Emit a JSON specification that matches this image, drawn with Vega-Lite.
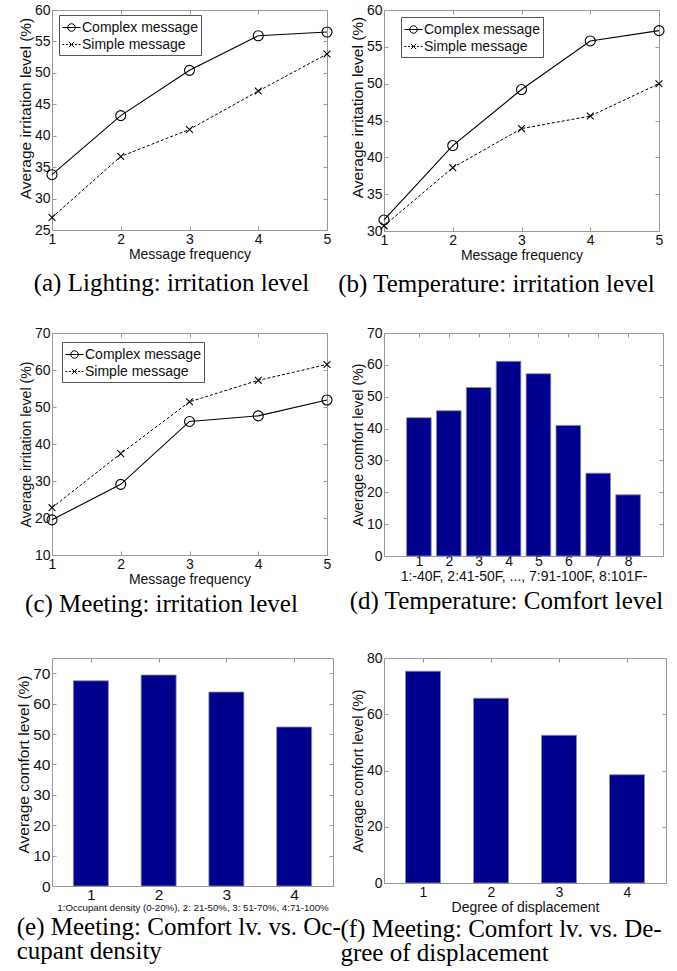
{
  "$schema": "https://vega.github.io/schema/vega-lite/v6.json",
  "padding": {"left": 16, "top": 2, "right": 4, "bottom": 4},
  "background": "white",
  "config": {
    "view": {"stroke": "#999999", "strokeWidth": 1},
    "axis": {"domain": false, "grid": false, "tickColor": "#999999", "tickSize": -4, "tickWidth": 1,
      "labelFont": "Liberation Sans", "labelFontSize": 14, "labelColor": "#111111",
      "titleFont": "Liberation Sans", "titleFontSize": 14, "titleFontWeight": "normal", "titleColor": "#111111",
      "labelFlush": false, "labelOverlap": false},
    "axisX": {"labelPadding": 6, "titlePadding": 1},
    "axisY": {"labelPadding": 6, "titlePadding": 1, "titleFontSize": 15.5},
    "title": {"orient": "bottom", "anchor": "middle", "offset": 10, "font": "Liberation Serif", "fontSize": 25, "fontWeight": "normal", "color": "#000000", "lineHeight": 24}
  },
  "datasets": {
    "a": [
      {"f": 1, "v": 33.8, "s": "Complex message"}, {"f": 2, "v": 43.2, "s": "Complex message"}, {"f": 3, "v": 50.4, "s": "Complex message"}, {"f": 4, "v": 55.9, "s": "Complex message"}, {"f": 5, "v": 56.5, "s": "Complex message"},
      {"f": 1, "v": 27.0, "s": "Simple message"}, {"f": 2, "v": 36.7, "s": "Simple message"}, {"f": 3, "v": 41.0, "s": "Simple message"}, {"f": 4, "v": 47.1, "s": "Simple message"}, {"f": 5, "v": 53.0, "s": "Simple message"}
    ],
    "b": [
      {"f": 1, "v": 31.5, "s": "Complex message"}, {"f": 2, "v": 41.6, "s": "Complex message"}, {"f": 3, "v": 49.2, "s": "Complex message"}, {"f": 4, "v": 55.8, "s": "Complex message"}, {"f": 5, "v": 57.2, "s": "Complex message"},
      {"f": 1, "v": 30.7, "s": "Simple message"}, {"f": 2, "v": 38.6, "s": "Simple message"}, {"f": 3, "v": 43.9, "s": "Simple message"}, {"f": 4, "v": 45.6, "s": "Simple message"}, {"f": 5, "v": 50.0, "s": "Simple message"}
    ],
    "c": [
      {"f": 1, "v": 19.5, "s": "Complex message"}, {"f": 2, "v": 29.1, "s": "Complex message"}, {"f": 3, "v": 46.1, "s": "Complex message"}, {"f": 4, "v": 47.6, "s": "Complex message"}, {"f": 5, "v": 51.9, "s": "Complex message"},
      {"f": 1, "v": 22.8, "s": "Simple message"}, {"f": 2, "v": 37.4, "s": "Simple message"}, {"f": 3, "v": 51.4, "s": "Simple message"}, {"f": 4, "v": 57.2, "s": "Simple message"}, {"f": 5, "v": 61.5, "s": "Simple message"}
    ],
    "d": [
      {"t": 1, "v": 43.4}, {"t": 2, "v": 45.6}, {"t": 3, "v": 52.9}, {"t": 4, "v": 61.1},
      {"t": 5, "v": 57.2}, {"t": 6, "v": 41.0}, {"t": 7, "v": 26.0}, {"t": 8, "v": 19.2}
    ],
    "e": [
      {"t": 1, "v": 67.5}, {"t": 2, "v": 69.4}, {"t": 3, "v": 63.8}, {"t": 4, "v": 52.3}
    ],
    "f": [
      {"t": 1, "v": 75.3}, {"t": 2, "v": 65.7}, {"t": 3, "v": 52.5}, {"t": 4, "v": 38.5}
    ]
  },
  "columns": 2,
  "bounds": "flush",
  "spacing": {"row": 102, "column": 51},
  "resolve": {"scale": {"shape": "independent"}, "legend": {"shape": "independent"}},
  "concat": [
    {
      "width": 275, "height": 220,
      "title": {"text": "(a) Lighting: irritation level", "dx": -18},
      "data": {"name": "a"},
      "layer": [
        {"transform": [{"filter": "datum.s === 'Complex message'"}],
         "mark": {"type": "line", "color": "black", "strokeWidth": 1.1},
         "encoding": {
           "x": {"field": "f", "type": "quantitative", "scale": {"domain": [1, 5], "nice": false, "zero": false}, "axis": {"values": [1, 2, 3, 4, 5], "title": "Message frequency"}},
           "y": {"field": "v", "type": "quantitative", "scale": {"domain": [25, 60], "nice": false, "zero": false}, "axis": {"values": [25, 30, 35, 40, 45, 50, 55, 60], "title": "Average irritation level (%)", "titleY": 98}}
         }},
        {"transform": [{"filter": "datum.s === 'Simple message'"}],
         "mark": {"type": "line", "color": "black", "strokeWidth": 1, "strokeDash": [3, 2]},
         "encoding": {"x": {"field": "f", "type": "quantitative", "axis": null}, "y": {"field": "v", "type": "quantitative", "axis": null}}},
        {"transform": [{"filter": "datum.s === 'Complex message'"}],
         "mark": {"type": "point", "shape": "circle", "filled": false, "color": "black", "strokeWidth": 1.1, "opacity": 1, "size": 100},
         "encoding": {"x": {"field": "f", "type": "quantitative", "axis": null}, "y": {"field": "v", "type": "quantitative", "axis": null}}},
        {"transform": [{"filter": "datum.s === 'Simple message'"}],
         "mark": {"type": "point", "shape": "M-0.68,-0.68L0.68,0.68M-0.68,0.68L0.68,-0.68", "filled": false, "color": "black", "strokeWidth": 1.1, "opacity": 1, "size": 100},
         "encoding": {"x": {"field": "f", "type": "quantitative", "axis": null}, "y": {"field": "v", "type": "quantitative", "axis": null}}},
        {"mark": {"type": "point", "opacity": 0, "filled": false, "color": "black"},
         "encoding": {
           "x": {"field": "f", "type": "quantitative", "axis": {"orient": "top", "values": [1, 2, 3, 4, 5], "labels": false, "title": null}},
           "y": {"field": "v", "type": "quantitative", "axis": {"orient": "right", "values": [25, 30, 35, 40, 45, 50, 55, 60], "labels": false, "title": null}},
           "shape": {"field": "s", "type": "nominal", "scale": {"domain": ["Complex message", "Simple message"], "range": ["M-1,0L1,0M-0.42,0A0.42,0.42 0 1,1 0.42,0A0.42,0.42 0 1,1 -0.42,0", "M-1,0L-0.8,0M-0.6,0L-0.4,0M-0.2,0L0.2,0M0.4,0L0.6,0M0.8,0L1,0M-0.3,-0.3L0.3,0.3M-0.3,0.3L0.3,-0.3"]},
             "legend": {"title": null, "orient": "none", "legendX": 7, "legendY": 5, "strokeColor": "#555555", "fillColor": "white", "padding": 3,
               "labelFont": "Liberation Sans", "labelFontSize": 14, "labelColor": "#111111", "symbolSize": 324, "labelOffset": 1, "rowPadding": 0,
               "symbolOpacity": 1, "symbolStrokeColor": "black", "symbolStrokeWidth": 1, "symbolFillColor": "transparent"}}
         }}
      ],
      "resolve": {"axis": {"x": "independent", "y": "independent"}}
    },
    {
      "width": 275, "height": 221,
      "title": {"text": "(b) Temperature: irritation level", "dx": -25},
      "data": {"name": "b"},
      "layer": [
        {"transform": [{"filter": "datum.s === 'Complex message'"}],
         "mark": {"type": "line", "color": "black", "strokeWidth": 1.1},
         "encoding": {
           "x": {"field": "f", "type": "quantitative", "scale": {"domain": [1, 5], "nice": false, "zero": false}, "axis": {"values": [1, 2, 3, 4, 5], "title": "Message frequency"}},
           "y": {"field": "v", "type": "quantitative", "scale": {"domain": [30, 60], "nice": false, "zero": false}, "axis": {"values": [30, 35, 40, 45, 50, 55, 60], "title": "Average irritation level (%)", "titleY": 97}}
         }},
        {"transform": [{"filter": "datum.s === 'Simple message'"}],
         "mark": {"type": "line", "color": "black", "strokeWidth": 1, "strokeDash": [3, 2]},
         "encoding": {"x": {"field": "f", "type": "quantitative", "axis": null}, "y": {"field": "v", "type": "quantitative", "axis": null}}},
        {"transform": [{"filter": "datum.s === 'Complex message'"}],
         "mark": {"type": "point", "shape": "circle", "filled": false, "color": "black", "strokeWidth": 1.1, "opacity": 1, "size": 100},
         "encoding": {"x": {"field": "f", "type": "quantitative", "axis": null}, "y": {"field": "v", "type": "quantitative", "axis": null}}},
        {"transform": [{"filter": "datum.s === 'Simple message'"}],
         "mark": {"type": "point", "shape": "M-0.68,-0.68L0.68,0.68M-0.68,0.68L0.68,-0.68", "filled": false, "color": "black", "strokeWidth": 1.1, "opacity": 1, "size": 100},
         "encoding": {"x": {"field": "f", "type": "quantitative", "axis": null}, "y": {"field": "v", "type": "quantitative", "axis": null}}},
        {"mark": {"type": "point", "opacity": 0, "filled": false, "color": "black"},
         "encoding": {
           "x": {"field": "f", "type": "quantitative", "axis": {"orient": "top", "values": [1, 2, 3, 4, 5], "labels": false, "title": null}},
           "y": {"field": "v", "type": "quantitative", "axis": {"orient": "right", "values": [30, 35, 40, 45, 50, 55, 60], "labels": false, "title": null}},
           "shape": {"field": "s", "type": "nominal", "scale": {"domain": ["Complex message", "Simple message"], "range": ["M-1,0L1,0M-0.42,0A0.42,0.42 0 1,1 0.42,0A0.42,0.42 0 1,1 -0.42,0", "M-1,0L-0.8,0M-0.6,0L-0.4,0M-0.2,0L0.2,0M0.4,0L0.6,0M0.8,0L1,0M-0.3,-0.3L0.3,0.3M-0.3,0.3L0.3,-0.3"]},
             "legend": {"title": null, "orient": "none", "legendX": 17, "legendY": 7, "strokeColor": "#555555", "fillColor": "white", "padding": 3,
               "labelFont": "Liberation Sans", "labelFontSize": 14, "labelColor": "#111111", "symbolSize": 324, "labelOffset": 1, "rowPadding": 0,
               "symbolOpacity": 1, "symbolStrokeColor": "black", "symbolStrokeWidth": 1, "symbolFillColor": "transparent"}}
         }}
      ],
      "resolve": {"axis": {"x": "independent", "y": "independent"}}
    },
    {
      "width": 275, "height": 222,
      "title": {"text": "(c) Meeting: irritation level", "dx": -28, "offset": 6},
      "data": {"name": "c"},
      "layer": [
        {"transform": [{"filter": "datum.s === 'Complex message'"}],
         "mark": {"type": "line", "color": "black", "strokeWidth": 1.1},
         "encoding": {
           "x": {"field": "f", "type": "quantitative", "scale": {"domain": [1, 5], "nice": false, "zero": false}, "axis": {"values": [1, 2, 3, 4, 5], "title": "Message frequency"}},
           "y": {"field": "v", "type": "quantitative", "scale": {"domain": [10, 70], "nice": false, "zero": false}, "axis": {"values": [10, 20, 30, 40, 50, 60, 70], "title": "Average irritation level (%)", "titleFontSize": 14.2}}
         }},
        {"transform": [{"filter": "datum.s === 'Simple message'"}],
         "mark": {"type": "line", "color": "black", "strokeWidth": 1, "strokeDash": [3, 2]},
         "encoding": {"x": {"field": "f", "type": "quantitative", "axis": null}, "y": {"field": "v", "type": "quantitative", "axis": null}}},
        {"transform": [{"filter": "datum.s === 'Complex message'"}],
         "mark": {"type": "point", "shape": "circle", "filled": false, "color": "black", "strokeWidth": 1.1, "opacity": 1, "size": 100},
         "encoding": {"x": {"field": "f", "type": "quantitative", "axis": null}, "y": {"field": "v", "type": "quantitative", "axis": null}}},
        {"transform": [{"filter": "datum.s === 'Simple message'"}],
         "mark": {"type": "point", "shape": "M-0.68,-0.68L0.68,0.68M-0.68,0.68L0.68,-0.68", "filled": false, "color": "black", "strokeWidth": 1.1, "opacity": 1, "size": 100},
         "encoding": {"x": {"field": "f", "type": "quantitative", "axis": null}, "y": {"field": "v", "type": "quantitative", "axis": null}}},
        {"mark": {"type": "point", "opacity": 0, "filled": false, "color": "black"},
         "encoding": {
           "x": {"field": "f", "type": "quantitative", "axis": {"orient": "top", "values": [1, 2, 3, 4, 5], "labels": false, "title": null}},
           "y": {"field": "v", "type": "quantitative", "axis": {"orient": "right", "values": [10, 20, 30, 40, 50, 60, 70], "labels": false, "title": null}},
           "shape": {"field": "s", "type": "nominal", "scale": {"domain": ["Complex message", "Simple message"], "range": ["M-1,0L1,0M-0.42,0A0.42,0.42 0 1,1 0.42,0A0.42,0.42 0 1,1 -0.42,0", "M-1,0L-0.8,0M-0.6,0L-0.4,0M-0.2,0L0.2,0M0.4,0L0.6,0M0.8,0L1,0M-0.3,-0.3L0.3,0.3M-0.3,0.3L0.3,-0.3"]},
             "legend": {"title": null, "orient": "none", "legendX": 10, "legendY": 9, "strokeColor": "#555555", "fillColor": "white", "padding": 3,
               "labelFont": "Liberation Sans", "labelFontSize": 14, "labelColor": "#111111", "symbolSize": 324, "labelOffset": 1, "rowPadding": 0,
               "symbolOpacity": 1, "symbolStrokeColor": "black", "symbolStrokeWidth": 1, "symbolFillColor": "transparent"}}
         }}
      ],
      "resolve": {"axis": {"x": "independent", "y": "independent"}}
    },
    {
      "width": 279, "height": 223,
      "title": {"text": "(d) Temperature: Comfort level", "dx": -17, "offset": 6},
      "data": {"name": "d"},
      "layer": [
        {"mark": {"type": "bar", "orient": "vertical", "width": 24.6, "color": "#00008f", "stroke": "#8a8aa0", "strokeWidth": 0.8},
         "encoding": {
           "x": {"field": "t", "type": "quantitative", "scale": {"domain": [0, 9], "nice": false, "zero": false}, "axis": {"values": [1, 2, 3, 4, 5, 6, 7, 8], "title": "1:-40F, 2:41-50F, ..., 7:91-100F, 8:101F-", "labelPadding": 2, "titlePadding": 1}},
           "y": {"field": "v", "type": "quantitative", "scale": {"domain": [0, 70], "nice": false}, "axis": {"values": [0, 10, 20, 30, 40, 50, 60, 70], "title": "Average comfort level (%)", "titleFontSize": 14.2}}
         }},
        {"mark": {"type": "point", "opacity": 0},
         "encoding": {
           "x": {"field": "t", "type": "quantitative", "axis": {"orient": "top", "values": [1, 2, 3, 4, 5, 6, 7, 8], "labels": false, "title": null}},
           "y": {"field": "v", "type": "quantitative", "axis": {"orient": "right", "values": [0, 10, 20, 30, 40, 50, 60, 70], "labels": false, "title": null}}
         }}
      ],
      "resolve": {"axis": {"x": "independent", "y": "independent"}}
    },
    {
      "width": 281, "height": 228,
      "title": {"text": ["(e) Meeting: Comfort lv. vs. Oc-", "cupant density"], "anchor": "start", "offset": 3},
      "data": {"name": "e"},
      "layer": [
        {"mark": {"type": "bar", "orient": "vertical", "width": 35, "color": "#00008f", "stroke": "#8a8aa0", "strokeWidth": 0.8},
         "encoding": {
           "x": {"field": "t", "type": "quantitative", "scale": {"domain": [0.5, 4.5], "nice": false, "zero": false}, "axis": {"values": [1, 2, 3, 4], "labelFontSize": 15.5, "labelPadding": 5, "title": "1:Occupant density (0-20%), 2: 21-50%, 3: 51-70%, 4:71-100%", "titleFontSize": 9.7, "titlePadding": 0}},
           "y": {"field": "v", "type": "quantitative", "scale": {"domain": [0, 75], "nice": false}, "axis": {"values": [0, 10, 20, 30, 40, 50, 60, 70], "labelFontSize": 15.5, "title": "Average comfort level (%)", "titleY": 106}}
         }},
        {"mark": {"type": "point", "opacity": 0},
         "encoding": {
           "x": {"field": "t", "type": "quantitative", "axis": {"orient": "top", "values": [1, 2, 3, 4], "labels": false, "title": null}},
           "y": {"field": "v", "type": "quantitative", "axis": {"orient": "right", "values": [0, 10, 20, 30, 40, 50, 60, 70], "labels": false, "title": null}}
         }}
      ],
      "resolve": {"axis": {"x": "independent", "y": "independent"}}
    },
    {
      "width": 282, "height": 225,
      "title": {"text": ["(f) Meeting: Comfort lv. vs. De-", "gree of displacement"], "anchor": "start", "dx": -11, "offset": 3},
      "data": {"name": "f"},
      "layer": [
        {"mark": {"type": "bar", "orient": "vertical", "width": 35, "color": "#00008f", "stroke": "#8a8aa0", "strokeWidth": 0.8},
         "encoding": {
           "x": {"field": "t", "type": "quantitative", "scale": {"domain": [0.5, 4.5], "nice": false, "zero": false}, "axis": {"values": [1, 2, 3, 4], "title": "Degree of displacement"}},
           "y": {"field": "v", "type": "quantitative", "scale": {"domain": [0, 80], "nice": false}, "axis": {"values": [0, 20, 40, 60, 80], "title": "Average comfort level (%)", "titleFontSize": 14.2}}
         }},
        {"mark": {"type": "point", "opacity": 0},
         "encoding": {
           "x": {"field": "t", "type": "quantitative", "axis": {"orient": "top", "values": [1, 2, 3, 4], "labels": false, "title": null}},
           "y": {"field": "v", "type": "quantitative", "axis": {"orient": "right", "values": [0, 20, 40, 60, 80], "labels": false, "title": null}}
         }}
      ],
      "resolve": {"axis": {"x": "independent", "y": "independent"}}
    }
  ]
}
